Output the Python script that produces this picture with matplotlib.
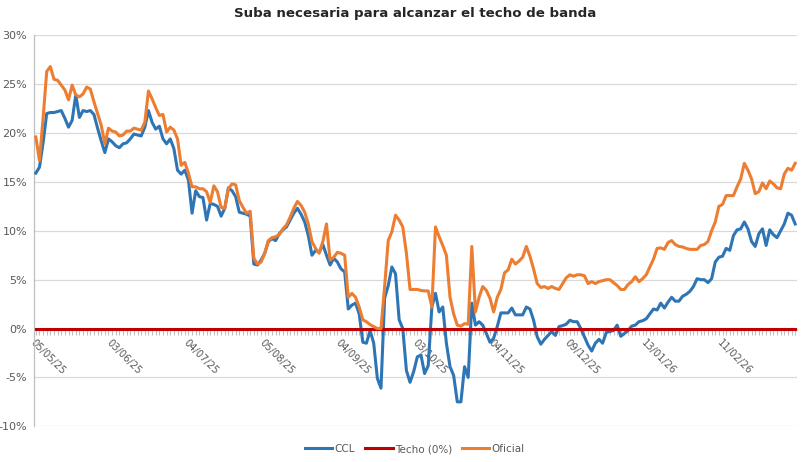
import matplotlib
matplotlib.use("Agg")
import matplotlib.pyplot as plt
from matplotlib.ticker import FuncFormatter, MultipleLocator, FixedLocator

# ---------------- data (percent) ----------------
ccl = [15.9, 16.5, 19.0, 22.0, 22.1, 22.1, 22.2, 22.3, 21.5, 20.6,
       21.3, 23.9, 21.6, 22.3, 22.2, 22.3, 21.9, 20.5, 19.2, 18.0,
       19.4, 19.1, 18.7, 18.5, 18.9, 19.0, 19.4, 19.9, 19.8, 19.7,
       20.6, 22.3, 21.1, 20.4, 20.7, 19.4, 18.9, 19.4, 18.4, 16.2,
       15.8, 16.2, 15.2, 11.8, 14.1, 13.5, 13.4, 11.1, 12.8, 12.7,
       12.5, 11.5, 12.3, 14.4, 14.1, 13.5, 11.9, 11.8, 11.7, 11.5,
       6.6, 6.5, 7.0, 7.7, 8.9, 9.2, 9.0, 9.7, 10.1, 10.4,
       11.1, 11.8, 12.3, 11.7, 10.9, 9.5, 7.5, 8.0, 7.8, 8.6,
       7.5, 6.5, 7.2, 6.8, 6.1, 5.8, 2.0, 2.4, 2.6, 1.5,
       -1.4, -1.5, -0.2, -1.5, -5.1, -6.1, 3.1, 4.4, 6.3, 5.6,
       0.9, 0.0, -4.3, -5.5, -4.4, -2.9, -2.7, -4.6, -3.8, 2.2,
       3.6, 1.7, 2.2, -1.5, -3.9, -4.8, -7.5, -7.5, -3.9, -5.0,
       2.6, 0.35, 0.7, 0.35, -0.5, -1.4, -1.0, 0.2, 1.6, 1.6,
       1.6, 2.1, 1.4, 1.4, 1.4, 2.2, 2.0, 0.85, -0.85, -1.6,
       -1.1, -0.7, -0.3, -0.7, 0.2, 0.3, 0.45, 0.85, 0.7, 0.7,
       0.0, -0.85, -1.7, -2.3, -1.5, -1.1, -1.5, -0.4, -0.3, -0.2,
       0.35, -0.8, -0.5, -0.2, 0.25, 0.35, 0.7, 0.8, 1.0, 1.5,
       2.0, 1.9, 2.6, 2.1, 2.7, 3.2, 2.8, 2.8, 3.3, 3.5,
       3.8, 4.3, 5.1, 5.0, 5.0, 4.7, 5.1, 6.8, 7.3, 7.4,
       8.2, 8.0, 9.5, 10.1, 10.2, 10.9, 10.2, 8.9, 8.4, 9.7,
       10.2, 8.5, 10.1, 9.6, 9.3, 10.0, 10.7, 11.8, 11.6, 10.7]

oficial = [19.6, 17.2, 21.5, 26.3, 26.8, 25.5, 25.4, 24.9, 24.4, 23.4,
           24.9, 23.9, 23.7, 24.0, 24.7, 24.5, 23.2, 22.0, 20.8, 18.9,
           20.5, 20.2, 20.1, 19.7, 19.8, 20.2, 20.2, 20.5, 20.4, 20.3,
           21.1, 24.3, 23.5, 22.6, 21.8, 21.9, 20.1, 20.6, 20.3, 19.4,
           16.7, 17.0, 15.9, 14.5, 14.5, 14.3, 14.3, 14.0, 12.9, 14.6,
           14.0, 12.4, 12.3, 14.3, 14.8, 14.7, 13.1, 12.4, 11.8, 12.0,
           7.2, 6.6, 6.8, 7.7, 9.0, 9.3, 9.4, 9.6, 10.2, 10.6,
           11.4, 12.3, 13.0, 12.6, 11.9, 10.7, 8.9, 8.2, 7.7, 8.9,
           10.7, 7.0, 7.3, 7.8, 7.7, 7.5, 3.2, 3.6, 3.2, 2.2,
           0.9, 0.7, 0.4, 0.2, 0.0, 0.0, 4.3, 9.0, 9.9, 11.6,
           11.1, 10.4, 7.7, 4.0, 4.0, 4.0, 3.9, 3.85, 3.85, 2.2,
           10.4, 9.4, 8.5, 7.5, 3.2, 1.5, 0.35, 0.25, 0.5, 0.45,
           8.4, 1.7, 3.2, 4.3, 3.9, 3.1, 1.7, 3.2, 4.0, 5.7,
           6.0, 7.1, 6.6, 6.9, 7.3, 8.4, 7.4, 6.1, 4.6, 4.2,
           4.3, 4.1, 4.3, 4.1, 4.0, 4.6, 5.2, 5.5, 5.35, 5.5,
           5.5, 5.4, 4.6, 4.8, 4.6, 4.8, 4.9, 5.0, 5.0, 4.7,
           4.4, 4.0, 4.0, 4.5, 4.8, 5.3, 4.8, 5.1, 5.5, 6.3,
           7.1, 8.2, 8.25, 8.1, 8.8, 9.0, 8.6, 8.4, 8.35, 8.2,
           8.1, 8.1, 8.1, 8.5, 8.6, 8.9, 10.0, 10.9, 12.5, 12.7,
           13.6, 13.6, 13.6, 14.5, 15.3, 16.9, 16.2, 15.3, 13.8, 14.0,
           14.9, 14.3, 15.1, 14.8, 14.4, 14.3, 15.8, 16.4, 16.2, 16.9]

techo_value = 0.0  # Techo (0%)

tick_labels = ["05/05/25", "03/06/25", "04/07/25", "05/08/25", "04/09/25",
               "03/10/25", "04/11/25", "09/12/25", "13/01/26", "11/02/26"]
tick_step = 21  # business days between labelled dates

series_names = ["CCL", "Techo (0%)", "Oficial"]
title = "Suba necesaria para alcanzar el techo de banda"

# ---------------- plot ----------------
N = len(ccl)
x = list(range(N))
techo = [techo_value] * N

BLUE = "#2E75B6"
RED = "#C00000"
ORANGE = "#ED7D31"
GRID = "#D9D9D9"
TXT = "#595959"

fig = plt.figure(figsize=(8.02, 4.62), dpi=100)
ax = fig.add_axes([34 / 802, 1 - 426.3 / 462, (797 - 34) / 802, (426.3 - 35.3) / 462])

l1, = ax.plot(x, ccl, color=BLUE, lw=2.2, solid_joinstyle="round", zorder=3, label=series_names[0])
l2, = ax.plot(x, techo, color=RED, lw=2.2, zorder=4, label=series_names[1])
l3, = ax.plot(x, oficial, color=ORANGE, lw=2.2, solid_joinstyle="round", zorder=5, label=series_names[2])

ax.set_xlim(-0.5, N - 0.5)
ax.set_ylim(-10, 30)
ax.yaxis.set_major_locator(MultipleLocator(5))
ax.yaxis.set_major_formatter(FuncFormatter(lambda v, p: f"{v:.0f}%"))
ax.grid(axis="y", color=GRID, lw=0.9, zorder=0)
ax.set_axisbelow(True)

for s in ["top", "right"]:
    ax.spines[s].set_visible(False)
ax.spines["left"].set_color("#BFBFBF")
ax.spines["left"].set_linewidth(0.9)
ax.spines["bottom"].set_position(("data", 0))
ax.spines["bottom"].set_color("#BFBFBF")

ax.tick_params(axis="y", length=0, labelsize=8, labelcolor=TXT, pad=5)

major_pos = [i * tick_step for i in range(len(tick_labels))]
ax.xaxis.set_major_locator(FixedLocator(major_pos))
ax.xaxis.set_minor_locator(FixedLocator([i for i in range(N)]))
ax.set_xticklabels(tick_labels)
ax.tick_params(axis="x", which="both", direction="out", length=4.5, width=0.8,
               color="#BFBFBF", labelsize=7.2, labelcolor=TXT, pad=2)
for lab in ax.get_xticklabels():
    lab.set_rotation(-45)
    lab.set_ha("left")
    lab.set_va("top")
    lab.set_rotation_mode("anchor")

fig.text(415 / 802, 1 - 13 / 462, title, ha="center", va="center",
         fontsize=9.6, fontweight="bold", color="#262626")

fig.legend(handles=[l1, l2, l3], loc="center", bbox_to_anchor=(415 / 802, 1 - 449 / 462),
           ncol=3, frameon=False, fontsize=7.5, handlelength=2.6, handletextpad=0.2,
           columnspacing=1.0, labelcolor=TXT)

fig.savefig("out.png", dpi=100)
